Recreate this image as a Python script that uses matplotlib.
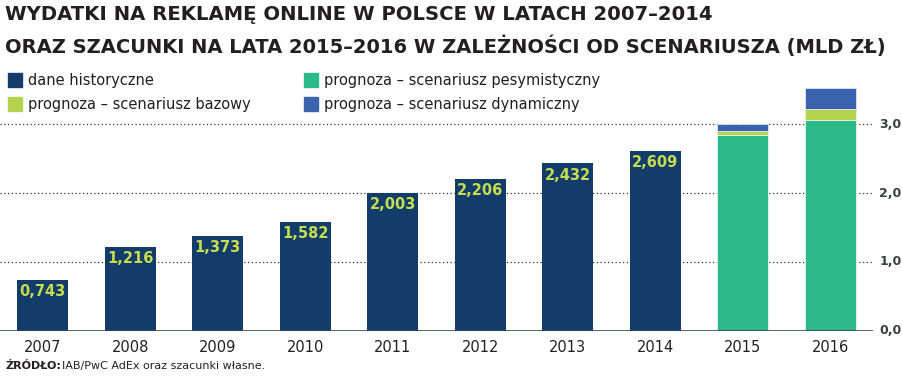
import matplotlib
matplotlib.use("Agg")
import matplotlib.pyplot as plt
from matplotlib.patches import Rectangle

years = ["2007", "2008", "2009", "2010", "2011", "2012", "2013", "2014", "2015", "2016"]
historical = [0.743, 1.216, 1.373, 1.582, 2.003, 2.206, 2.432, 2.609, 0, 0]
pessimistic = [0, 0, 0, 0, 0, 0, 0, 0, 2.84, 3.06]
base_extra = [0, 0, 0, 0, 0, 0, 0, 0, 0.06, 0.16]
dynamic_extra = [0, 0, 0, 0, 0, 0, 0, 0, 0.11, 0.31]
y_ticks = [0, 1, 2, 3]
y_tick_labels = ["0,0", "1,0", "2,0", "3,0"]

NAVY = "#123c69"
GREEN = "#2bb98a"
LIME = "#b5d44e"
BLUE = "#3a62ad"
LABEL = "#c8dc50"
TEXT = "#231f20"

plt.rcParams["font.family"] = ["DejaVu Sans"]

fig = plt.figure(figsize=(9.03, 3.76), dpi=100)
ax = fig.add_axes([0, 0.1205, 0.9668, 0.6585])

x = list(range(len(years)))
w = 0.58
ax.bar(x, historical, width=w, color=NAVY, zorder=3)
ax.bar(x, pessimistic, width=w, color=GREEN, edgecolor="#e8f5ee", linewidth=0.6, zorder=3)
bottoms = [p for p in pessimistic]
ax.bar(x, base_extra, width=w, bottom=bottoms, color=LIME, edgecolor="#eef5dc", linewidth=0.6, zorder=3)
bottoms = [p + b for p, b in zip(pessimistic, base_extra)]
ax.bar(x, dynamic_extra, width=w, bottom=bottoms, color=BLUE, edgecolor="#dfe6f3", linewidth=0.6, zorder=3)

for xi, v in zip(x, historical):
    if v > 0:
        ax.annotate(f"{v:.3f}".replace(".", ","), (xi, v), xytext=(0, -3),
                    textcoords="offset points", ha="center", va="top",
                    fontsize=10.5, fontweight="bold", color=LABEL, zorder=4)

ax.set_xlim(-0.49, 9.49)
ax.set_ylim(0, 3.6)
for t in y_ticks[1:]:
    ax.axhline(t, color="#333333", ls=(0, (1, 2)), lw=0.9, zorder=1)
ax.axhline(0, color="#3a4a55", lw=1.2, zorder=4)
for sp in ax.spines.values():
    sp.set_visible(False)
ax.set_xticks([])
ax.set_yticks([])

for t, lab in zip(y_ticks, y_tick_labels):
    ax.text(1.007, t, lab, transform=ax.get_yaxis_transform(), ha="left", va="center",
            fontsize=9, fontweight="bold", color="#3a3f45")

for xi, yr in zip(x, years):
    ax.annotate(yr, (xi, 0), xytext=(0, -12), textcoords="offset points",
                ha="center", va="center", fontsize=10.5, color=TEXT)

# title
fig.text(0.006, 0.962, "WYDATKI NA REKLAMĘ ONLINE W POLSCE W LATACH 2007–2014",
         fontsize=14.1, fontweight="bold", color=TEXT, va="center", ha="left")
fig.text(0.006, 0.877, "ORAZ SZACUNKI NA LATA 2015–2016 W ZALEŻNOŚCI OD SCENARIUSZA (MLD ZŁ)",
         fontsize=14.0, fontweight="bold", color=TEXT, va="center", ha="left")

# legend
legend_items = [
    (8, 80, NAVY, "dane historyczne"),
    (8, 104, LIME, "prognoza – scenariusz bazowy"),
    (304, 80, GREEN, "prognoza – scenariusz pesymistyczny"),
    (304, 104, BLUE, "prognoza – scenariusz dynamiczny"),
]
W, H = 903, 376
for px, py, col, lab in legend_items:
    fig.patches.append(Rectangle((px / W, (H - py - 7) / H), 14 / W, 14 / H,
                                 transform=fig.transFigure, color=col))
    fig.text((px + 20) / W, (H - py) / H, lab, fontsize=10.5, color=TEXT,
             va="center", ha="left")

# source
fig.text(0.006, 0.026, "ŹRÓDŁO:", fontsize=8, fontweight="bold", color=TEXT, va="center")
fig.text(0.069, 0.026, "IAB/PwC AdEx oraz szacunki własne.", fontsize=8, color=TEXT, va="center")

fig.savefig("out.png", dpi=100)
